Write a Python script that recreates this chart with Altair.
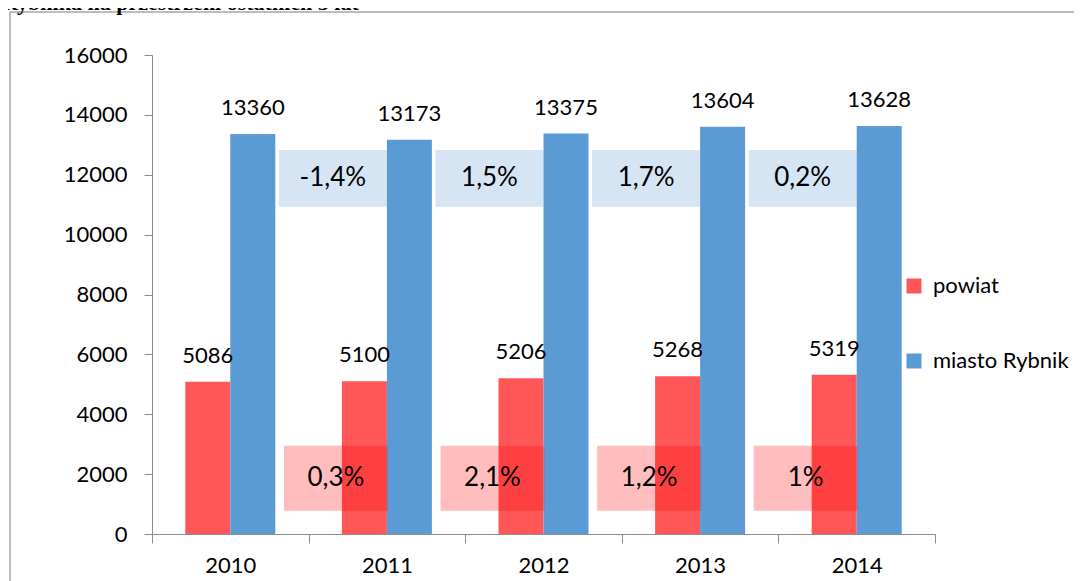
import altair as alt
import pandas as pd

# ---- data ----
years = ["2010", "2011", "2012", "2013", "2014"]
series_names = ["powiat", "miasto Rybnik"]
powiat = [5086, 5100, 5206, 5268, 5319]
miasto = [13360, 13173, 13375, 13604, 13628]
pct_powiat = ["0,3%", "2,1%", "1,2%", "1%"]
pct_miasto = ["-1,4%", "1,5%", "1,7%", "0,2%"]
y_ticks = [0, 2000, 4000, 6000, 8000, 10000, 12000, 14000, 16000]
title_text = "Rybnika na przestrzeni ostatnich 5 lat"

bars_df = pd.DataFrame({
    "year": years * 2,
    "series": [series_names[0]] * len(years) + [series_names[1]] * len(years),
    "value": powiat + miasto,
})
pct_df = pd.DataFrame({
    "year": years[1:] * 2,
    "series": [series_names[0]] * len(pct_powiat) + [series_names[1]] * len(pct_miasto),
    "label": pct_powiat + pct_miasto,
})
one = pd.DataFrame({"k": [0]})

# ---- style ----
FONT = "Lato"
RED = "#FF5757"
BLUE = "#5B9BD5"
AXIS_GRAY = "#8C8C8C"

x_enc = alt.X(
    "year:N", sort=years, title=None,
    scale=alt.Scale(paddingInner=0, paddingOuter=0),
    axis=alt.Axis(labelAngle=0, tickBand="extent", tickSize=9, labelPadding=12,
                  labelFont=FONT, labelFontSize=22, labelColor="black",
                  domainColor=AXIS_GRAY, tickColor=AXIS_GRAY, grid=False),
)
y_scale = alt.Scale(domain=[0, 16000], nice=False, zero=True)
y_axis = alt.Axis(values=y_ticks, tickSize=8, labelPadding=17, labelFont=FONT,
                  labelFontSize=22, labelColor="black", domainColor=AXIS_GRAY,
                  tickColor=AXIS_GRAY, grid=False, format="d")
xoff_enc = alt.XOffset("series:N", sort=series_names,
                       scale=alt.Scale(paddingInner=0, paddingOuter=0.74))

bars = alt.Chart(bars_df).mark_bar().encode(
    x=x_enc,
    xOffset=xoff_enc,
    y=alt.Y("value:Q", scale=y_scale, axis=y_axis, title=None),
    color=alt.Color(
        "series:N", sort=series_names,
        scale=alt.Scale(domain=series_names, range=[RED, BLUE]),
        legend=alt.Legend(orient="none", legendX=751, legendY=220, title=None,
                          symbolType="square", symbolSize=225, symbolStrokeWidth=0,
                          labelFont=FONT, labelFontSize=22, labelColor="black",
                          rowPadding=53, padding=0, labelOffset=8, labelLimit=300),
    ),
)

value_labels = alt.Chart(bars_df).mark_text(
    baseline="alphabetic", dy=-19, font=FONT, fontSize=22, color="black"
).encode(
    x=x_enc,
    xOffset=xoff_enc,
    y=alt.Y("value:Q", scale=y_scale, axis=y_axis, title=None),
    text=alt.Text("value:Q", format="d"),
)

blue_boxes = alt.Chart(pct_df).transform_filter(
    alt.datum.series == "miasto Rybnik"
).transform_calculate(y0="11880 - 950", y1="11880 + 950").mark_bar(
    width=108, xOffset=-54, color="#D6E5F3"
).encode(
    x=x_enc,
    y=alt.Y("y0:Q", scale=y_scale, axis=y_axis, title=None),
    y2="y1:Q",
)
blue_text = alt.Chart(pct_df).transform_filter(
    alt.datum.series == "miasto Rybnik"
).transform_calculate(yc="11880").mark_text(
    xOffset=-54, baseline="middle", font=FONT, fontSize=26, color="black"
).encode(
    x=x_enc,
    y=alt.Y("yc:Q", scale=y_scale, axis=y_axis, title=None),
    text="label:N",
)

red_boxes = alt.Chart(pct_df).transform_filter(
    alt.datum.series == "powiat"
).transform_calculate(y0="1860 - 1085", y1="1860 + 1085").mark_bar(
    width=104, xOffset=-51, color="#FF0000", opacity=0.26
).encode(
    x=x_enc,
    y=alt.Y("y0:Q", scale=y_scale, axis=y_axis, title=None),
    y2="y1:Q",
)
red_text = alt.Chart(pct_df).transform_filter(
    alt.datum.series == "powiat"
).transform_calculate(yc="1860").mark_text(
    xOffset=-51, baseline="middle", font=FONT, fontSize=26, color="black"
).encode(
    x=x_enc,
    y=alt.Y("yc:Q", scale=y_scale, axis=y_axis, title=None),
    text="label:N",
)

frame = alt.Chart(one).mark_rect(
    fill="white", fillOpacity=0, stroke="#A6A6A6", strokeWidth=1.5
).encode(
    x=alt.value(-142), x2=alt.value(960), y=alt.value(-43), y2=alt.value(560)
)

title = alt.Chart(one).mark_text(
    text=title_text, font="Liberation Serif", fontSize=22, fontWeight="bold",
    align="left", baseline="alphabetic", color="black"
).encode(x=alt.value(-150), y=alt.value(-45))

chart = alt.layer(
    frame, title, blue_boxes, bars, red_boxes, value_labels, blue_text, red_text
).properties(
    width=783, height=479,
    autosize=alt.AutoSizeParams(type="none"),
    padding={"left": 144, "top": 47, "right": 139, "bottom": 47},
).configure_view(stroke=None)

chart.save("out.html", embed_options={"renderer": "svg", "actions": False})
